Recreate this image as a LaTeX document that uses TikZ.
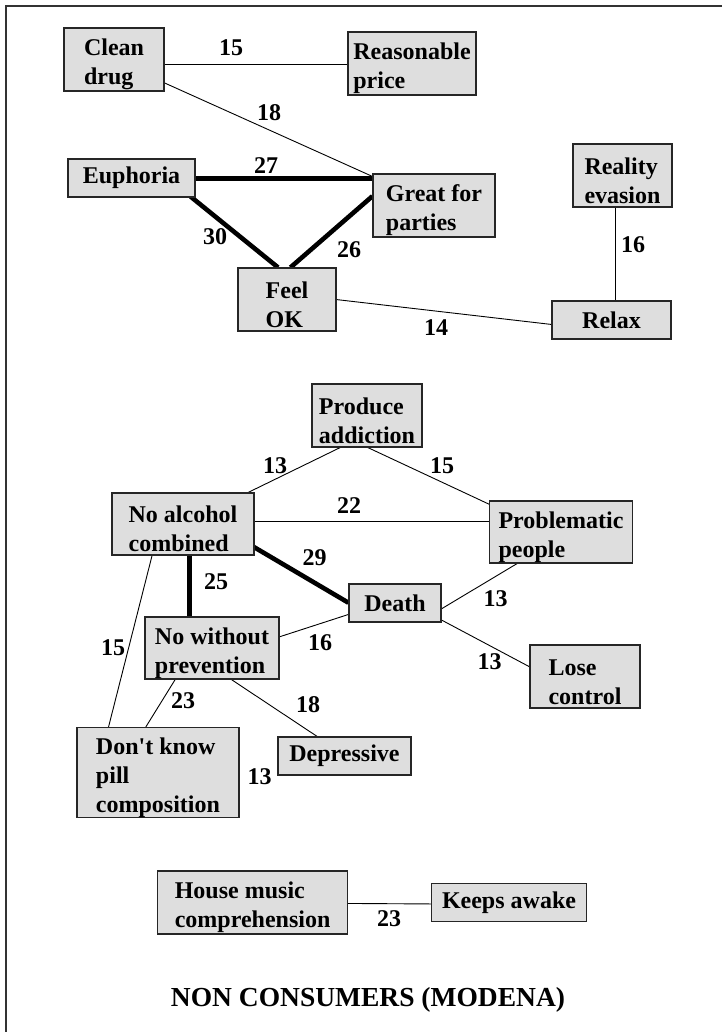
\documentclass[tikz,border=0pt]{standalone}
\usepackage{fontspec}
\setmainfont{Liberation Serif}
\usetikzlibrary{calc,backgrounds}
% raises the first line of a multi-line label so the block sits low in its box
\newcommand{\leadline}{\rule{0pt}{27pt}}
\tikzset{
  conceptbox/.style={draw=black!85, line width=1.1pt, fill=black!13, inner sep=0pt,
    align=left, font=\fontsize{24}{29}\selectfont\bfseries},
  weight/.style={inner sep=0pt, font=\fontsize{24}{29}\selectfont\bfseries},
  heading/.style={inner sep=0pt, font=\fontsize{27.5}{32}\selectfont\bfseries},
  thinlink/.style={line width=0.9pt},
  strong/.style={line width=4.6pt},
  frame/.style={line width=1.6pt, draw=black!80},
}
\begin{document}
\begin{tikzpicture}[x=1pt, y=-1pt]
\useasboundingbox (0,0) rectangle (722,1032);
\draw[frame] (722,6) -- (6,6) -- (6,1032);

% --- upper cluster
\node[conceptbox, minimum width=100pt, minimum height=63pt] (cd) at (114,59.5) {\leadline Clean\\drug};
\node[conceptbox, minimum width=128pt, minimum height=63pt] (rp) at (412,63.5) {\leadline Reasonable\\price};
\node[conceptbox, minimum width=127pt, minimum height=38pt] (eu) at (131.5,178) {Euphoria};
\node[conceptbox, minimum width=122pt, minimum height=63pt] (gp) at (434,205.5) {\leadline Great for\\parties};
\node[conceptbox, minimum width=98pt, minimum height=63pt] (fo) at (287,299.5) {\leadline Feel\\OK};
\node[conceptbox, minimum width=99pt, minimum height=63pt] (re) at (622.5,175.5) {\leadline Reality\\evasion};
\node[conceptbox, minimum width=119pt, minimum height=38pt] (rl) at (611.5,320) {Relax};

% --- middle cluster
\node[conceptbox, minimum width=110pt, minimum height=63pt] (pa) at (367,415.5) {\leadline Produce\\addiction};
\node[conceptbox, minimum width=142pt, minimum height=62pt] (na) at (183,524) {\leadline No alcohol\\combined};
\node[conceptbox, minimum width=143pt, minimum height=62pt] (pp) at (561,532) {\leadline Problematic\\people};
\node[conceptbox, minimum width=92pt, minimum height=38pt] (de) at (395,603) {Death};
\node[conceptbox, minimum width=134pt, minimum height=62pt] (nw) at (212,648) {\leadline No without\\prevention};
\node[conceptbox, minimum width=110pt, minimum height=63pt] (lc) at (585,676.5) {\leadline Lose\\control};
\node[conceptbox, minimum width=162pt, minimum height=87pt] (dk) at (158,772.5) {\leadline Don\textquotesingle t know\\pill\\composition};
\node[conceptbox, minimum width=133pt, minimum height=38pt] (dp) at (344.5,756) {Depressive};

% --- lower pair
\node[conceptbox, minimum width=190pt, minimum height=63pt] (hm) at (252.6,902.5) {\leadline House music\\comprehension};
\node[conceptbox, minimum width=155pt, minimum height=38pt] (ka) at (509,902.5) {Keeps awake};

% --- connectors
\begin{scope}[on background layer]
\draw[thinlink] ($(cd.north west)+(100,37)$) -- ($(rp.north west)+(0,33)$);
\draw[thinlink] ($(cd.north west)+(100,55)$) -- ($(gp.north west)+(0,3)$);
\draw[strong] ($(eu.north west)+(127,20)$) -- ($(gp.north west)+(0,5)$);
\draw[strong] ($(eu.north west)+(123,38)$) -- ($(fo.north west)+(40.6,0)$);
\draw[strong] ($(gp.north west)+(0,22.7)$) -- ($(fo.north west)+(53,0)$);
\draw[thinlink] ($(re.north west)+(43,63)$) -- ($(rl.north west)+(64,0)$);
\draw[thinlink] ($(fo.north west)+(98,32)$) -- ($(rl.north west)+(0,24)$);

\draw[thinlink] ($(pa.north west)+(31,63)$) -- ($(na.north west)+(136.7,0)$);
\draw[thinlink] ($(pa.north west)+(54,63)$) -- ($(pp.north west)+(0,3.7)$);
\draw[thinlink] ($(na.north west)+(142,28.7)$) -- ($(pp.north west)+(0,20.7)$);
\draw[strong] ($(na.north west)+(142,54.3)$) -- ($(de.north west)+(0,19.3)$);
\draw[strong] ($(na.north west)+(78.2,62)$) -- ($(nw.north west)+(45.2,0)$);
\draw[thinlink] ($(de.north west)+(92,26)$) -- ($(pp.north west)+(30,62)$);
\draw[thinlink] ($(de.north west)+(92,36)$) -- ($(lc.north west)+(0,22.3)$);
\draw[thinlink] ($(nw.north west)+(134,20.7)$) -- ($(de.north west)+(0,31)$);
\draw[thinlink] ($(na.north west)+(40.9,62)$) -- ($(dk.north west)+(32.1,0)$);
\draw[thinlink] ($(nw.north west)+(31.4,62)$) -- ($(dk.north west)+(69.4,0)$);
\draw[thinlink] ($(nw.north west)+(85.3,62)$) -- ($(dp.north west)+(39.7,0)$);

\draw[thinlink] ($(hm.north west)+(190,33)$) -- ($(ka.north west)+(0,21)$);
\end{scope}

% --- weights
\node[weight] (w1) at (231,48) {15};
\node[weight] (w2) at (269,113) {18};
\node[weight] (w3) at (266,166) {27};
\node[weight] (w4) at (215,237) {30};
\node[weight] (w5) at (349,250) {26};
\node[weight] (w6) at (633,245) {16};
\node[weight] (w7) at (436,328) {14};
\node[weight] (w8) at (275,466) {13};
\node[weight] (w9) at (442,466) {15};
\node[weight] (w10) at (349,506) {22};
\node[weight] (w11) at (314.5,558) {29};
\node[weight] (w12) at (216,582) {25};
\node[weight] (w13) at (495.5,599) {13};
\node[weight] (w14) at (489.5,662) {13};
\node[weight] (w15) at (320,643) {16};
\node[weight] (w16) at (113,648) {15};
\node[weight] (w17) at (183,701) {23};
\node[weight] (w18) at (308,705) {18};
\node[weight] (w19) at (259.5,777) {13};
\node[weight] (w20) at (389,919) {23};

\node[heading] (title) at (368,1000) {NON CONSUMERS (MODENA)};
\end{tikzpicture}
\end{document}
